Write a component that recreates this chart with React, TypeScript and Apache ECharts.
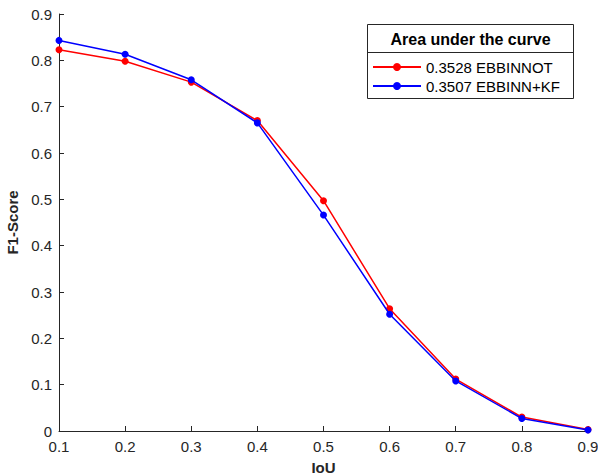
import React, { useEffect, useRef } from "react";
import * as echarts from "echarts";

const iou = [0.1, 0.2, 0.3, 0.4, 0.5, 0.6, 0.7, 0.8, 0.9];
const ebbinnot = [0.823, 0.798, 0.753, 0.670, 0.497, 0.264, 0.112, 0.030, 0.003];
const ebbinnKf = [0.843, 0.813, 0.758, 0.665, 0.466, 0.252, 0.108, 0.027, 0.002];
const seriesNames = ["0.3528 EBBINNOT", "0.3507 EBBINN+KF"];
const legendTitle = "Area under the curve";

const AX = "#262626";
const FONT = "Liberation Sans, Arial, sans-serif";

export default function App() {
  const ref = useRef<HTMLDivElement>(null);
  useEffect(() => {
    const chart = echarts.init(ref.current!, undefined, { renderer: "svg" });
    const mk = (vals: number[]) => iou.map((x, i) => [x, vals[i]]);
    chart.setOption({
      animation: false,
      backgroundColor: "#ffffff",
      textStyle: { fontFamily: FONT },
      grid: { left: 59, right: 10, top: 14, bottom: 45, containLabel: false, outerBoundsMode: "none" },
      xAxis: {
        type: "value",
        min: 0.1,
        max: 0.9,
        interval: 0.1,
        name: "IoU",
        nameLocation: "middle",
        nameGap: 29,
        nameTextStyle: { color: AX, fontSize: 15, fontWeight: "bold", fontFamily: FONT },
        axisLine: { show: true, lineStyle: { color: AX, width: 1 } },
        axisTick: { show: true, inside: true, length: 5, lineStyle: { color: AX } },
        axisLabel: {
          color: AX,
          fontSize: 15,
          fontFamily: FONT,
          margin: 8,
          formatter: (v: number) => v.toFixed(1),
        },
        splitLine: { show: false },
      },
      yAxis: {
        type: "value",
        min: 0,
        max: 0.9,
        interval: 0.1,
        name: "F1-Score",
        nameLocation: "middle",
        nameGap: 34,
        nameTextStyle: { color: AX, fontSize: 15, fontWeight: "bold", fontFamily: FONT },
        axisLine: { show: true, lineStyle: { color: AX, width: 1 } },
        axisTick: { show: true, inside: true, length: 5, lineStyle: { color: AX } },
        axisLabel: {
          color: AX,
          fontSize: 15,
          fontFamily: FONT,
          margin: 7,
          formatter: (v: number) => (Math.abs(v) < 1e-9 ? "0" : v.toFixed(1)),
        },
        splitLine: { show: false },
      },
      legend: {
        orient: "vertical",
        left: 372,
        top: 59,
        itemWidth: 48,
        itemHeight: 10,
        itemGap: 3,
        padding: 0,
        textStyle: { color: "#000", fontSize: 15, lineHeight: 16, fontFamily: FONT },
        data: seriesNames,
      },
      graphic: [
        {
          type: "rect",
          shape: { x: 367.5, y: 24.5, width: 206, height: 74 },
          style: { fill: "#fff", stroke: AX, lineWidth: 1 },
          z: -1,
          silent: true,
        },
        {
          type: "line",
          shape: { x1: 367.5, y1: 52.5, x2: 573.5, y2: 52.5 },
          style: { stroke: AX, lineWidth: 1 },
          silent: true,
        },
        {
          type: "text",
          x: 470.5,
          y: 39,
          style: {
            text: legendTitle,
            fill: "#000",
            font: "bold 16px " + FONT,
            textAlign: "center",
            textVerticalAlign: "middle",
          },
          silent: true,
        },
      ],
      series: [
        {
          name: seriesNames[0],
          type: "line",
          data: mk(ebbinnot),
          symbol: "circle",
          symbolSize: 7,
          lineStyle: { color: "#ff0000", width: 1.5 },
          itemStyle: { color: "#ff0000" },
          z: 2,
        },
        {
          name: seriesNames[1],
          type: "line",
          data: mk(ebbinnKf),
          symbol: "circle",
          symbolSize: 7,
          lineStyle: { color: "#0000ff", width: 1.5 },
          itemStyle: { color: "#0000ff" },
          z: 3,
        },
      ],
    });
    return () => chart.dispose();
  }, []);
  return <div ref={ref} style={{ width: 598, height: 476, position: "absolute", left: 0, top: 0 }} />;
}
